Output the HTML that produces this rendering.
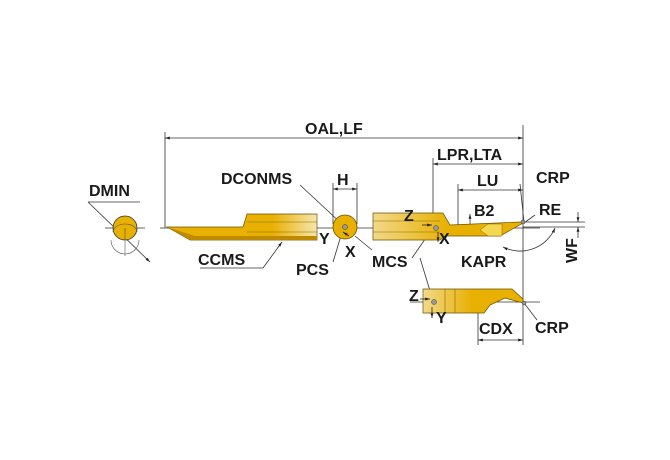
<!DOCTYPE html>
<html><head><style>
html,body{margin:0;padding:0;background:#fff}
svg{display:block}
text{font-family:"Liberation Sans",Arial,sans-serif;font-weight:bold;font-size:16px;fill:#1a1a1a}
</style></head><body>
<svg width="670" height="460" viewBox="0 0 670 460" xmlns="http://www.w3.org/2000/svg">
<defs>
<linearGradient id="fadeL" x1="0" x2="1"><stop offset="0" stop-color="#f2d98a"/><stop offset="0.5" stop-color="#e8b000"/><stop offset="1" stop-color="#e8b000"/></linearGradient>
<linearGradient id="fadeR" x1="0" x2="1"><stop offset="0" stop-color="#e8b000"/><stop offset="0.7" stop-color="#e8b000"/><stop offset="1" stop-color="#f6e6b0"/></linearGradient>
<marker id="a" viewBox="0 0 10 10" refX="10" refY="5" markerWidth="6" markerHeight="6" orient="auto-start-reverse"><path d="M0,2 L10,5 L0,8z" fill="#222"/></marker>
</defs>
<g stroke="#333" stroke-width="0.8" fill="none">
<line x1="165" y1="138" x2="523" y2="138" marker-start="url(#a)" marker-end="url(#a)"/>
<line x1="165" y1="132" x2="165" y2="228"/>
<line x1="523" y1="125" x2="523" y2="345"/>
<line x1="433" y1="158" x2="433" y2="228"/>
<line x1="433" y1="164" x2="523" y2="164" marker-start="url(#a)" marker-end="url(#a)"/>
<line x1="458" y1="184" x2="458" y2="226"/>
<line x1="458" y1="190" x2="523" y2="190" marker-start="url(#a)" marker-end="url(#a)"/>
<line x1="333" y1="183" x2="333" y2="224"/><line x1="357" y1="183" x2="357" y2="224"/>
<line x1="333" y1="189" x2="357" y2="189" marker-start="url(#a)" marker-end="url(#a)"/>
<line x1="478" y1="312" x2="478" y2="345"/>
<line x1="478" y1="340" x2="523" y2="340" marker-start="url(#a)" marker-end="url(#a)"/>
<line x1="523" y1="222" x2="585" y2="222"/><line x1="523" y1="227" x2="585" y2="227"/>
<line x1="578" y1="212" x2="578" y2="222" marker-end="url(#a)"/>
<line x1="578" y1="238" x2="578" y2="227" marker-end="url(#a)"/>
<path d="M555,228 A38,38 0 0 1 503,247" marker-start="url(#a)" marker-end="url(#a)"/>
<line x1="160" y1="228" x2="540" y2="228"/>
<line x1="105" y1="228" x2="145" y2="228"/>
<line x1="410" y1="302" x2="540" y2="302"/>
<line x1="88" y1="202" x2="150" y2="262" marker-end="url(#a)"/>
<line x1="88" y1="202" x2="140" y2="202"/>
<line x1="300" y1="185" x2="343" y2="225" marker-end="url(#a)"/>
<line x1="263" y1="268" x2="282" y2="242" marker-end="url(#a)"/>
<line x1="200" y1="268" x2="263" y2="268"/>
<line x1="333" y1="262" x2="343" y2="229"/>
<line x1="355" y1="236" x2="372" y2="250"/>
<line x1="412" y1="258" x2="432" y2="229"/>
<line x1="420" y1="258" x2="434" y2="304"/>
<line x1="520" y1="184" x2="524" y2="222" />
<line x1="535" y1="215" x2="524" y2="223"/>
<line x1="537" y1="320" x2="524" y2="303"/>
<line x1="470" y1="214" x2="470" y2="236" marker-start="url(#a)"/>
</g>
<circle cx="125" cy="228" r="12" fill="#e8b000" stroke="#333" stroke-width="0.8"/>
<path d="M113,232 A12,8 0 0 1 137,232" fill="none" stroke="#555" stroke-width="0.6"/>
<path d="M111,240 A14,14 0 0 0 139,240 M125,228 L125,256" fill="none" stroke="#555" stroke-width="0.6"/>
<path d="M167,227 L243,227 L247,214 L317,214 L317,240 L190,240 Z" fill="url(#fadeR)" stroke="#6a5000" stroke-width="0.7"/>
<path d="M167,227 L190,240 L317,240 L317,236 L195,236 Z" fill="#c08a00"/>
<line x1="247" y1="222" x2="317" y2="222" stroke="#8a6a00" stroke-width="0.6"/>
<line x1="247" y1="232" x2="317" y2="232" stroke="#8a6a00" stroke-width="0.6"/>
<circle cx="345" cy="227" r="12" fill="#e8b000" stroke="#6a5000" stroke-width="0.8"/>
<circle cx="345" cy="227" r="2.5" fill="#999" stroke="#333" stroke-width="0.5"/>
<path d="M373,213 L443,213 L450,225 L521,222 L525,222 L500,236 L445,236 L440,240 L373,240 Z" fill="url(#fadeL)" stroke="#6a5000" stroke-width="0.7"/>
<line x1="373" y1="221" x2="440" y2="221" stroke="#8a6a00" stroke-width="0.6"/>
<line x1="373" y1="232" x2="440" y2="232" stroke="#8a6a00" stroke-width="0.6"/>
<path d="M480,230 L488,224 L502,224 L502,236 L488,236Z" fill="#f5d850" stroke="#8a6a00" stroke-width="0.5"/>
<circle cx="436" cy="228" r="2.5" fill="#999" stroke="#333" stroke-width="0.5"/>
<circle cx="523" cy="222" r="2" fill="#999" stroke="#333" stroke-width="0.5"/>
<path d="M423,289 L512,289 L523,299 L523,303 L505,298 L490,305 L484,313 L423,313 Z" fill="url(#fadeL)" stroke="#6a5000" stroke-width="0.7"/>
<line x1="445" y1="289" x2="445" y2="313" stroke="#8a6a00" stroke-width="0.6"/>
<line x1="455" y1="289" x2="455" y2="313" stroke="#8a6a00" stroke-width="0.6"/>
<circle cx="434" cy="302" r="2.5" fill="#999" stroke="#333" stroke-width="0.5"/>
<circle cx="524" cy="303" r="2" fill="#999" stroke="#333" stroke-width="0.5"/>
<g stroke="#222" stroke-width="0.8" fill="none">
<line x1="422" y1="225" x2="432" y2="225" marker-end="url(#a)"/>
<line x1="438" y1="232" x2="438" y2="242" marker-end="url(#a)"/>
<line x1="420" y1="299" x2="430" y2="299" marker-end="url(#a)"/>
<line x1="432" y1="307" x2="432" y2="318" marker-end="url(#a)"/>
<line x1="349" y1="236" x2="343" y2="232" marker-end="url(#a)"/>
</g>
<text x="305" y="134">OAL,LF</text>
<text x="89" y="196">DMIN</text>
<text x="221" y="184">DCONMS</text>
<text x="337" y="185">H</text>
<text x="437" y="160">LPR,LTA</text>
<text x="477" y="186">LU</text>
<text x="536" y="183">CRP</text>
<text x="539" y="215">RE</text>
<text x="474" y="216">B2</text>
<text x="404" y="221">Z</text>
<text x="439" y="244">X</text>
<text x="319" y="244">Y</text>
<text x="345" y="257">X</text>
<text x="198" y="265">CCMS</text>
<text x="296" y="275">PCS</text>
<text x="372" y="267">MCS</text>
<text x="461" y="267">KAPR</text>
<text x="0" y="0" transform="translate(577,263) rotate(-90)">WF</text>
<text x="409" y="301">Z</text>
<text x="436" y="323">Y</text>
<text x="479" y="334">CDX</text>
<text x="535" y="333">CRP</text>
</svg>
</body></html>
